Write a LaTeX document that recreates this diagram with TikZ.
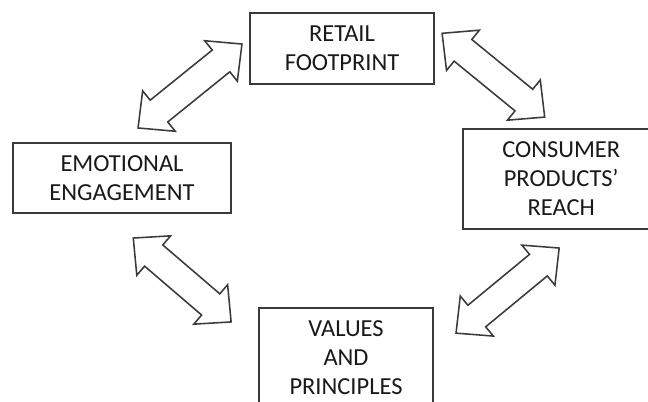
\documentclass[tikz,border=0pt]{standalone}
\usepackage{fontspec}
\setmainfont{Carlito}
\usepackage{tikz}
\usetikzlibrary{shapes.arrows,calc}

\definecolor{inkgray}{HTML}{3A3A3A}

\tikzset{
  box/.style={draw=inkgray, line width=1.3pt, align=center, text=black!90,
    font=\fontsize{17.4}{20.6}\selectfont, inner sep=0pt},
  dblarrow/.style={double arrow, draw=inkgray, line width=1.1pt, fill=white,
    double arrow head extend=0.3cm, double arrow tip angle=88,
    inner xsep=0pt, inner ysep=0.33cm, minimum width=0pt}
}

% block arrow with both heads, from one coordinate to another
\newcommand{\linkarrow}[2]{
  \path let \p1=($(#2)-(#1)$), \n1={atan2(\y1,\x1)}, \n2={veclen(\x1,\y1)} in
    ($(#1)!0.5!(#2)$) node[dblarrow, rotate=\n1, minimum height=\n2] {};
}

\begin{document}
\begin{tikzpicture}
  \path[use as bounding box, clip] (0,0) rectangle (16.2,10.05);

  \node[box, minimum width=4.6cm, minimum height=1.775cm] (retail) at (8.55,8.84) {RETAIL\\FOOTPRINT};
  \node[box, minimum width=5.45cm, minimum height=1.75cm] (emo) at (3.05,5.6) {EMOTIONAL\\ENGAGEMENT};
  \node[box, minimum width=4.9cm, minimum height=2.5cm] (cons) at (14.03,5.58) {CONSUMER\\PRODUCTS'\\REACH};
  \node[box, minimum width=4.35cm, minimum height=2.5cm] (vals) at (8.65,1.1) {VALUES\\AND\\PRINCIPLES};

  % arrow tips
  \coordinate (a1) at (3.45,6.85);    \coordinate (b1) at (6.05,8.95);
  \coordinate (a2) at (11.05,9.22);   \coordinate (b2) at (13.62,7.12);
  \coordinate (a3) at (3.33,4.1);     \coordinate (b3) at (5.78,2.0);
  \coordinate (a4) at (11.4,1.72);    \coordinate (b4) at (13.98,3.85);

  \linkarrow{a1}{b1}
  \linkarrow{a2}{b2}
  \linkarrow{a3}{b3}
  \linkarrow{a4}{b4}
\end{tikzpicture}
\end{document}
